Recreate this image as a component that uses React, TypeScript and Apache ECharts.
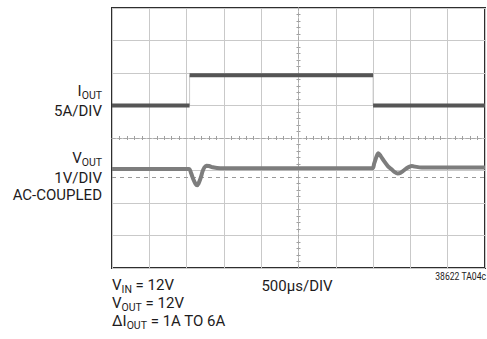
import React, { useEffect, useRef } from "react";
import * as echarts from "echarts";

// Time axis: microseconds relative to screen centre, 500 µs/DIV, 10 divisions
const timeMin = -2500;
const timeMax = 2500;
const timeStep = 500;
// Vertical axis: divisions relative to screen centre, 8 divisions
const divMin = -4;
const divMax = 4;
const divStep = 1;

// I_OUT trace (5A/DIV): step edges (µs) and level in each interval (div)
const ioutEdges = [-2500, -1460, 1000, 2500];
const ioutLevels = [1.0, 1.93, 1.0];

// V_OUT trace (1V/DIV, AC-coupled)
const voutTimes = [
  -2500, -1470, -1440, -1410, -1380, -1360, -1340, -1310, -1285, -1260, -1235,
  -1200, -1150, -1050, -500, 0, 500, 990, 1015, 1045, 1070, 1100, 1150, 1200,
  1250, 1290, 1330, 1370, 1410, 1450, 1490, 1520, 1560, 1650, 2000, 2500,
];
const voutValues = [
  -0.95, -0.95, -1.08, -1.27, -1.41, -1.45, -1.4, -1.22, -1.02, -0.9, -0.85,
  -0.86, -0.9, -0.93, -0.93, -0.93, -0.93, -0.93, -0.78, -0.58, -0.47, -0.55,
  -0.72, -0.87, -0.97, -1.05, -1.09, -1.07, -1.0, -0.93, -0.88, -0.86, -0.88,
  -0.91, -0.91, -0.91,
];
// Dashed ground reference of the V_OUT channel (div)
const voutReference = -1.22;

const leftLabels = [
  { rich: "{m|I}{s|OUT}", y: 101 },
  { rich: "{m|5A/DIV}", y: 121 },
  { rich: "{m|V}{s|OUT}", y: 168 },
  { rich: "{m|1V/DIV}", y: 188 },
  { rich: "{m|AC-COUPLED}", y: 205 },
];
const bottomLabels = [
  { rich: "{m|V}{s|IN}{m| = 12V}", y: 295 },
  { rich: "{m|V}{s|OUT}{m| = 12V}", y: 313 },
  { rich: "{m|ΔI}{s|OUT}{m| = 1A TO 6A}", y: 331 },
];
const timeLabel = "500µs/DIV";
const figureId = "38622 TA04c";

const FONT = "Roboto, 'Liberation Sans', Arial, sans-serif";
const TXT = "#1e1b1c";

export default function App() {
  const ref = useRef<HTMLDivElement | null>(null);

  useEffect(() => {
    if (!ref.current) return;
    const chart = echarts.init(ref.current, undefined, { renderer: "svg" });

    const ioutData: (number | null)[][] = [];
    for (let i = 0; i < ioutLevels.length; i++) {
      ioutData.push([ioutEdges[i], ioutLevels[i]]);
      ioutData.push([ioutEdges[i + 1], ioutLevels[i]]);
      if (i < ioutLevels.length - 1) ioutData.push([ioutEdges[i + 1], null]);
    }
    const ioutEdgeData: number[][] = [];
    for (let i = 0; i < ioutLevels.length; i++) {
      ioutEdgeData.push([ioutEdges[i], ioutLevels[i]]);
      ioutEdgeData.push([ioutEdges[i + 1], ioutLevels[i]]);
    }
    const voutData = voutTimes.map((t, i) => [t, voutValues[i]]);

    const rich = {
      m: { fontSize: 15, lineHeight: 15, fontFamily: FONT, fill: TXT, verticalAlign: "bottom", padding: [0, 0, 3, 0] },
      s: { fontSize: 10.5, lineHeight: 11, fontFamily: FONT, fill: TXT, verticalAlign: "bottom" },
    };

    const gridLine = { show: true, lineStyle: { color: "#c9c9c9", width: 1 } };

    const makeX = (pos: "bottom" | "top") => ({
      type: "value",
      position: pos,
      min: timeMin,
      max: timeMax,
      interval: timeStep,
      axisLine: { show: true, onZero: true, lineStyle: { color: "#a8a8a8", width: 1, type: [3, 3] } },
      axisTick: { show: false },
      minorTick: { show: true, splitNumber: 5, length: 2, lineStyle: { color: "#a0a0a0" } },
      axisLabel: { show: false },
      splitLine: pos === "bottom" ? gridLine : { show: false },
    });
    const makeY = (pos: "left" | "right") => ({
      type: "value",
      position: pos,
      min: divMin,
      max: divMax,
      interval: divStep,
      axisLine: { show: true, onZero: true, lineStyle: { color: "#a8a8a8", width: 1, type: [3, 3] } },
      axisTick: { show: false },
      minorTick: { show: true, splitNumber: 5, length: 2, lineStyle: { color: "#a0a0a0" } },
      axisLabel: { show: false },
      splitLine: pos === "left" ? gridLine : { show: false },
    });

    chart.setOption({
      animation: false,
      backgroundColor: "#ffffff",
      grid: {
        left: 112,
        top: 8,
        width: 373,
        height: 260,
        show: true,
        borderColor: "#2e2e2e",
        borderWidth: 2,
        backgroundColor: "transparent",
      },
      xAxis: [makeX("bottom"), makeX("top")],
      yAxis: [makeY("left"), makeY("right")],
      series: [
        {
          type: "line",
          data: ioutEdgeData,
          showSymbol: false,
          lineStyle: { color: "#cbcbcb", width: 1 },
          z: 3,
          silent: true,
        },
        {
          type: "line",
          data: ioutData,
          showSymbol: false,
          connectNulls: false,
          lineStyle: { color: "#555555", width: 4, cap: "butt" },
          z: 4,
          silent: true,
        },
        {
          type: "line",
          data: voutData,
          showSymbol: false,
          smooth: 0.3,
          lineStyle: { color: "#7d7d7d", width: 4 },
          z: 5,
          silent: true,
          markLine: {
            silent: true,
            symbol: "none",
            label: { show: false },
            lineStyle: { color: "#9a9a9a", width: 1, type: [4, 4] },
            data: [{ yAxis: voutReference }],
            z: 2,
          },
        },
      ],
      graphic: [
        ...leftLabels.map((l) => ({
          type: "text",
          x: 102,
          y: l.y,
          style: { text: l.rich, rich, align: "right", verticalAlign: "bottom", fill: TXT },
        })),
        ...bottomLabels.map((l) => ({
          type: "text",
          x: 112,
          y: l.y,
          style: { text: l.rich, rich, align: "left", verticalAlign: "bottom", fill: TXT },
        })),
        {
          type: "text",
          x: 297,
          y: 293,
          style: {
            text: timeLabel,
            align: "center",
            verticalAlign: "bottom",
            fontSize: 15,
            fontFamily: FONT,
            fill: TXT,
          },
        },
        {
          type: "text",
          x: 486,
          y: 282,
          scaleX: 0.82,
          style: {
            text: figureId,
            align: "right",
            verticalAlign: "bottom",
            fontSize: 10.5,
            fontFamily: FONT,
            fill: TXT,
          },
        },
      ],
    });

    return () => chart.dispose();
  }, []);

  return (
    <div
      ref={ref}
      style={{ position: "fixed", left: 0, top: 0, width: 487, height: 339, background: "#fff" }}
    />
  );
}
